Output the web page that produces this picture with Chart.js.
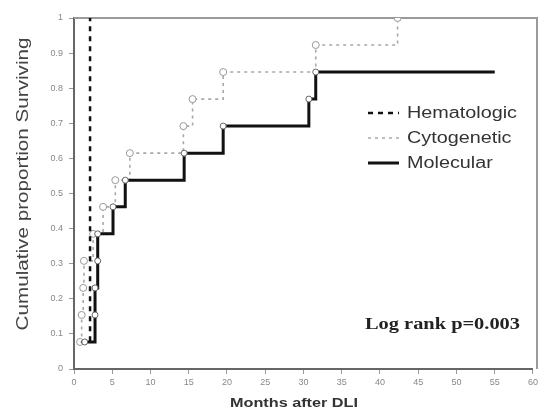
<!DOCTYPE html>
<html><head><meta charset="utf-8">
<script src="https://cdn.jsdelivr.net/npm/chart.js@4"></script>
<style>html,body{margin:0;padding:0;background:#fff}#wrap{width:541px;height:418px;position:relative}</style>
</head><body><div id="wrap"><canvas id="c" width="541" height="418"></canvas></div>
<script>
const seriesNames = ['Hematologic', 'Cytogenetic', 'Molecular'];
const hematologicMonths = [0.9, 2.1];
const hematologicValues = [0.077, 1.0];
const cytogeneticMonths = [0.8, 1.0, 1.2, 1.3, 2.5, 3.8, 5.4, 7.3, 14.3, 15.5, 19.5, 31.6, 42.3];
const cytogeneticValues = [0.077, 0.154, 0.231, 0.308, 0.385, 0.462, 0.538, 0.615, 0.692, 0.769, 0.846, 0.923, 1.0];
const molecularMonths = [1.4, 2.75, 2.75, 3.1, 3.1, 5.1, 6.7, 14.4, 19.5, 30.7, 31.6, 55.0];
const molecularValues = [0.077, 0.154, 0.231, 0.308, 0.385, 0.462, 0.538, 0.615, 0.692, 0.769, 0.846, 0.846];
const xTicks = [0, 5, 10, 15, 20, 25, 30, 35, 40, 45, 50, 55, 60];
const yTicks = [0, 0.1, 0.2, 0.3, 0.4, 0.5, 0.6, 0.7, 0.8, 0.9, 1];
const annotationText = 'Log rank p=0.003';
const xTitle = 'Months after DLI';
const yTitle = 'Cumulative proportion Surviving';

const pts = (xs, ys) => xs.map((x, i) => ({x: x, y: ys[i]}));

// draw text horizontally stretched to a target width
function fitText(ctx, text, x, y, targetWidth, align) {
  const w = ctx.measureText(text).width;
  const s = targetWidth / w;
  ctx.save();
  ctx.translate(x, y);
  ctx.scale(s, 1);
  ctx.textAlign = align;
  ctx.fillText(text, 0, 0);
  ctx.restore();
  return s;
}

const overlay = {
  id: 'overlay',
  beforeDatasetsDraw(chart) {
    const {ctx, chartArea: a} = chart;
    ctx.save();
    ctx.strokeStyle = '#9a9a9a';
    ctx.lineWidth = 2;
    ctx.beginPath();
    ctx.moveTo(a.left, a.top); ctx.lineTo(a.right + 4, a.top);
    ctx.lineTo(a.right + 4, a.bottom);
    ctx.stroke();
    ctx.restore();
  },
  afterDraw(chart) {
    const {ctx} = chart;
    ctx.save();
    // legend
    const rows = [113, 138, 163];
    ctx.font = '16px "Liberation Sans", Arial, sans-serif';
    const legendScale = 110 / ctx.measureText(seriesNames[0]).width;
    chart.data.datasets.forEach((ds, i) => {
      const y = rows[i];
      ctx.strokeStyle = ds.borderColor;
      ctx.lineWidth = ds.borderWidth;
      ctx.setLineDash(ds.borderDash || []);
      ctx.beginPath();
      ctx.moveTo(368, y); ctx.lineTo(399, y);
      ctx.stroke();
      ctx.setLineDash([]);
      ctx.fillStyle = '#333';
      ctx.font = '16px "Liberation Sans", Arial, sans-serif';
      ctx.textBaseline = 'middle';
      const w = ctx.measureText(ds.label).width * legendScale;
      fitText(ctx, ds.label, 407, y + 1, w, 'left');
    });
    // annotation
    ctx.fillStyle = '#222';
    ctx.font = 'bold 17px "Liberation Serif", "Times New Roman", serif';
    ctx.textBaseline = 'middle';
    fitText(ctx, annotationText, 365, 325, 155, 'left');
    // x title
    ctx.fillStyle = '#333';
    ctx.font = 'bold 12px "Liberation Sans", Arial, sans-serif';
    fitText(ctx, xTitle, 294, 404, 128, 'center');
    // y title
    ctx.translate(23, 184);
    ctx.rotate(-Math.PI / 2);
    ctx.font = '17px "Liberation Sans", Arial, sans-serif';
    ctx.fillStyle = '#444';
    fitText(ctx, yTitle, 0, 0, 293, 'center');
    ctx.restore();
  }
};

new Chart(document.getElementById('c'), {
  type: 'line',
  data: {
    datasets: [
      {
        label: seriesNames[0],
        data: pts(hematologicMonths, hematologicValues),
        stepped: true,
        borderColor: '#111',
        borderWidth: 2.5,
        borderDash: [5, 5],
        pointRadius: 0,
        fill: false,
        order: 1
      },
      {
        label: seriesNames[1],
        data: pts(cytogeneticMonths, cytogeneticValues),
        stepped: true,
        borderColor: '#a8a8a8',
        borderWidth: 1.6,
        borderDash: [3, 4],
        pointRadius: 3.5,
        pointBackgroundColor: '#fff',
        pointBorderColor: '#999',
        pointBorderWidth: 1,
        fill: false,
        order: 2
      },
      {
        label: seriesNames[2],
        data: pts(molecularMonths, molecularValues),
        stepped: true,
        borderColor: '#111',
        borderWidth: 3,
        pointRadius: (c) => c.dataIndex === molecularMonths.length - 1 ? 0 : 3,
        pointBackgroundColor: '#fff',
        pointBorderColor: '#666',
        pointBorderWidth: 1,
        fill: false,
        order: 0
      }
    ]
  },
  options: {
    responsive: false,
    animation: false,
    events: [],
    layout: {padding: {left: 0, top: 18, right: 7, bottom: 0}},
    plugins: {legend: {display: false}, tooltip: {enabled: false}},
    scales: {
      x: {
        type: 'linear', min: 0, max: 60,
        afterBuildTicks: (s) => { s.ticks = xTicks.map(v => ({value: v})); },
        afterFit: (s) => { s.height = 49; },
        grid: {drawOnChartArea: false, drawTicks: true, tickLength: 5, color: '#999'},
        border: {color: '#666', width: 2},
        ticks: {padding: 3, color: '#888', font: {size: 9, family: 'Liberation Sans'}, maxRotation: 0, autoSkip: false}
      },
      y: {
        type: 'linear', min: 0, max: 1,
        afterBuildTicks: (s) => { s.ticks = yTicks.map(v => ({value: v})); },
        afterFit: (s) => { s.width = 74; },
        grid: {drawOnChartArea: false, drawTicks: true, tickLength: 5, color: '#999'},
        border: {color: '#666', width: 2},
        ticks: {padding: 6, color: '#888', font: {size: 9, family: 'Liberation Sans'},
          callback: (v) => (v === 0 || v === 1) ? String(v) : v.toFixed(1)}
      }
    }
  },
  plugins: [overlay]
});
</script></body></html>
